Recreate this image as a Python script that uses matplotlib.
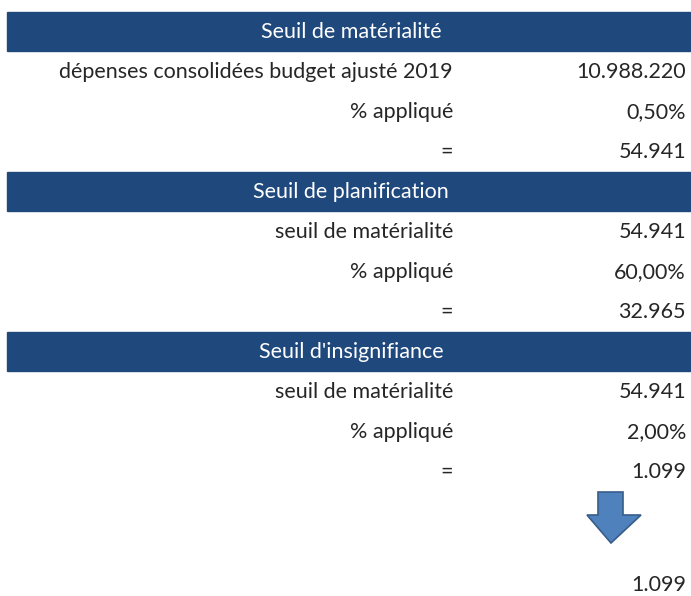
import matplotlib.pyplot as plt
from matplotlib.patches import Rectangle, Polygon

plt.rcParams['font.family'] = ['Lato', 'DejaVu Sans']

# table content
sections = ["Seuil de matérialité", "Seuil de planification", "Seuil d'insignifiance"]
labels = [
    ["dépenses consolidées budget ajusté 2019", "% appliqué", "="],
    ["seuil de matérialité", "% appliqué", "="],
    ["seuil de matérialité", "% appliqué", "="],
]
values = [
    ["10.988.220", "0,50%", "54.941"],
    ["54.941", "60,00%", "32.965"],
    ["54.941", "2,00%", "1.099"],
]
final_value = "1.099"

header_col = '#1f497d'
fs = 15.5
txt_col = '#262626'

fig = plt.figure(figsize=(6.91, 5.96), dpi=100)
ax = fig.add_axes([0, 0, 1, 1])
ax.set_xlim(0, 691)
ax.set_ylim(596, 0)
ax.axis('off')

row_h = 40
y = 32
for title, labs, vals in zip(sections, labels, values):
    ax.add_patch(Rectangle((7, y - 20), 684, 39, color=header_col))
    ax.text(351, y, title, color='white', fontsize=fs, ha='center', va='center')
    y += row_h
    for lab, val in zip(labs, vals):
        ax.text(453, y, lab, color=txt_col, fontsize=fs, ha='right', va='center')
        ax.text(686, y, val, color=txt_col, fontsize=fs, ha='right', va='center')
        y += row_h

# down arrow
arrow = [(598, 492), (623, 492), (623, 515), (641, 515), (611, 543),
         (587, 515), (598, 515)]
ax.add_patch(Polygon(arrow, closed=True, facecolor='#4f81bd',
                     edgecolor='#385d8a', linewidth=1.2))

ax.text(686, 585, final_value, color=txt_col, fontsize=fs, ha='right', va='center')

fig.savefig('out.png', dpi=100)
